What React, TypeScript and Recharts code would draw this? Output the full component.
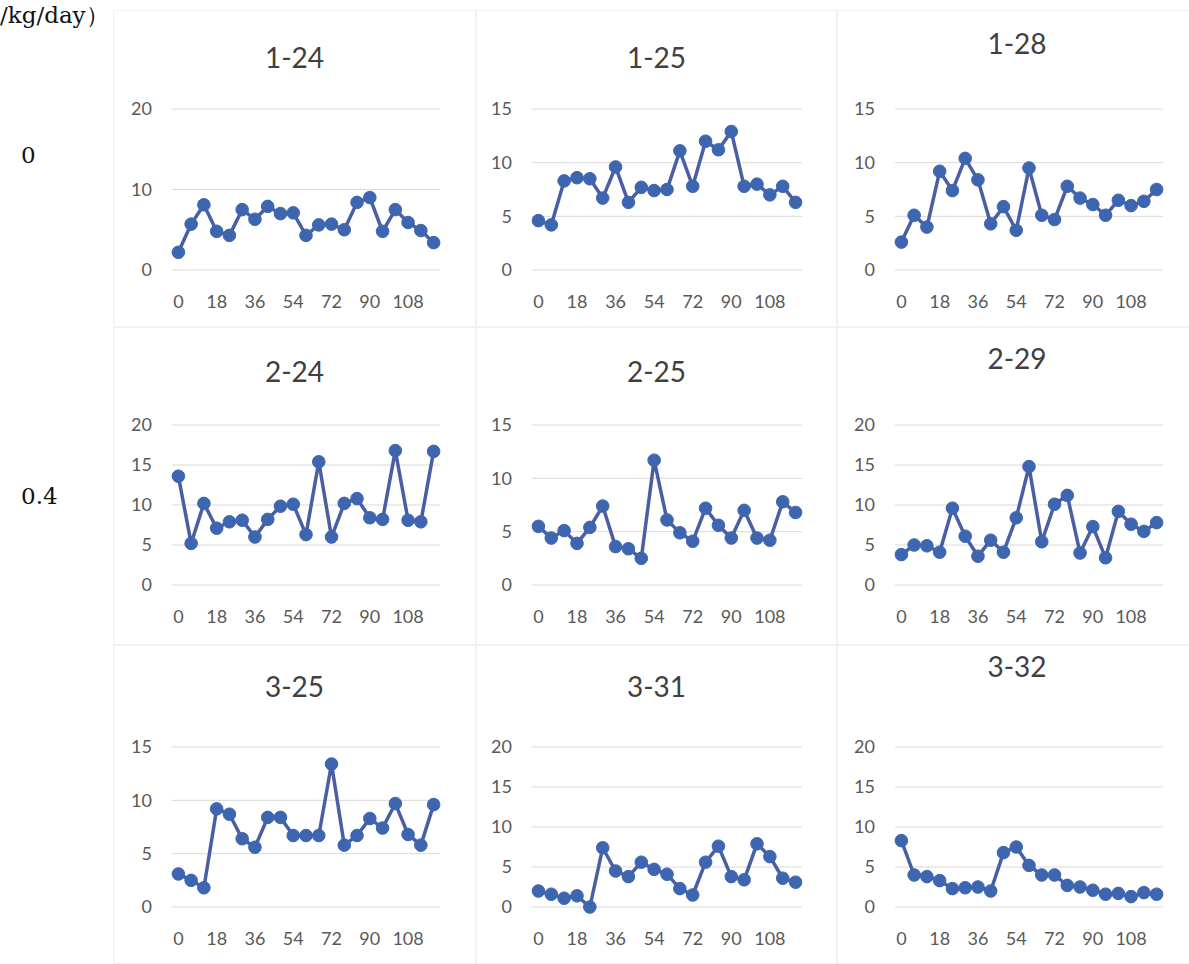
import { LineChart, Line, XAxis, YAxis, CartesianGrid } from "recharts"

// sampling days (x categories)
const days = [0, 6, 12, 18, 24, 30, 36, 42, 48, 54, 60, 66, 72, 78, 84, 90, 96, 102, 108, 114, 120]

const titles = ["1-24", "1-25", "1-28", "2-24", "2-25", "2-29", "3-25", "3-31", "3-32"]

const v124 = [2.2, 5.7, 8.1, 4.8, 4.3, 7.5, 6.3, 7.9, 7.0, 7.1, 4.3, 5.6, 5.7, 5.0, 8.4, 9.0, 4.8, 7.5, 5.9, 4.9, 3.4]
const v125 = [4.6, 4.2, 8.3, 8.6, 8.5, 6.7, 9.6, 6.3, 7.7, 7.4, 7.5, 11.1, 7.8, 12.0, 11.2, 12.9, 7.8, 8.0, 7.0, 7.8, 6.3]
const v128 = [2.6, 5.1, 4.0, 9.2, 7.4, 10.4, 8.4, 4.3, 5.9, 3.7, 9.5, 5.1, 4.7, 7.8, 6.7, 6.1, 5.1, 6.5, 6.0, 6.4, 7.5]
const v224 = [13.6, 5.2, 10.2, 7.1, 7.9, 8.1, 6.0, 8.2, 9.85, 10.1, 6.3, 15.4, 6.0, 10.2, 10.8, 8.4, 8.2, 16.8, 8.1, 7.9, 16.7]
const v225 = [5.5, 4.4, 5.1, 3.9, 5.4, 7.4, 3.6, 3.4, 2.5, 11.7, 6.1, 4.9, 4.1, 7.2, 5.6, 4.4, 7.0, 4.4, 4.2, 7.8, 6.8]
const v229 = [3.8, 5.0, 4.9, 4.1, 9.6, 6.1, 3.6, 5.6, 4.1, 8.4, 14.8, 5.4, 10.1, 11.2, 4.0, 7.3, 3.4, 9.2, 7.6, 6.7, 7.8]
const v325 = [3.1, 2.5, 1.8, 9.2, 8.7, 6.4, 5.6, 8.4, 8.4, 6.7, 6.7, 6.7, 13.4, 5.8, 6.7, 8.3, 7.4, 9.7, 6.8, 5.8, 9.6]
const v331 = [2.0, 1.6, 1.1, 1.4, 0.0, 7.4, 4.5, 3.8, 5.6, 4.7, 4.1, 2.3, 1.5, 5.6, 7.6, 3.8, 3.4, 7.9, 6.3, 3.6, 3.1]
const v332 = [8.3, 4.0, 3.8, 3.3, 2.3, 2.4, 2.5, 2.0, 6.8, 7.5, 5.2, 4.0, 4.0, 2.7, 2.5, 2.1, 1.6, 1.7, 1.3, 1.8, 1.6]

const series = [v124, v125, v128, v224, v225, v229, v325, v331, v332]

const ticks10 = [0, 10, 20]
const ticks15 = [0, 5, 10, 15]
const ticks20 = [0, 5, 10, 15, 20]
const yTicks = [ticks10, ticks15, ticks15, ticks20, ticks15, ticks20, ticks15, ticks20, ticks20]

const doseLabels = ["0", "0.4", ""]
const unitLabel = "/kg/day）"

const LINE = "#4A5FA3"
const DOT = "#3E66B0"
const GRID = "#d9d9d9"
const TICK = "#595959"

// page layout of the 3x3 grid
const colX = [113, 476, 837]
const colW = [363, 361, 360]
const plotL = [172, 532, 895]
const plotR = [440, 802, 1163]
const rowY = [10, 327, 645]
const rowH = [317, 318, 319]
const plotT = [109, 425, 747]
const plotB = [270, 585, 907]
const titleY = [
  [56, 56, 42],
  [370, 370, 357],
  [685, 685, 665],
]
const doseY = [155, 496, 820]

const Y_W = 40
const X_H = 40

function Panel({ idx }: { idx: number }) {
  const r = Math.floor(idx / 3)
  const c = idx % 3
  const data = days.map((d, i) => ({ day: d, value: series[idx][i] }))
  const ticks = yTicks[idx]
  const left = colX[c]
  const top = rowY[r]
  const width = colW[c]
  const height = rowH[r]
  const pw = plotR[c] - plotL[c]
  const pad = pw / 42
  return (
    <div
      style={{
        position: "absolute",
        left,
        top,
        width,
        height,
        boxSizing: "border-box",
        border: "1px solid #f1f1f1",
      }}
    >
      <div
        style={{
          position: "absolute",
          left: 0,
          width: "100%",
          top: titleY[r][c] - top - 18,
          height: 36,
          lineHeight: "36px",
          textAlign: "center",
          fontFamily: "Lato, sans-serif",
          fontSize: 28,
          color: "#404040",
        }}
      >
        {titles[idx]}
      </div>
      <div style={{ position: "absolute", left: -1, top: -1 }}>
        <LineChart
          width={width}
          height={height}
          data={data}
          margin={{
            top: plotT[r] - top,
            left: plotL[c] - left - Y_W,
            right: left + width - plotR[c],
            bottom: top + height - plotB[r] - X_H,
          }}
        >
          <CartesianGrid vertical={false} stroke={GRID} />
          <XAxis
            dataKey="day"
            height={X_H}
            interval={2}
            axisLine={false}
            tickLine={false}
            tickSize={0}
            tickMargin={25}
            padding={{ left: pad, right: pad }}
            tick={{ fill: TICK, fontSize: 18, fontFamily: "Lato, sans-serif" }}
          />
          <YAxis
            width={Y_W}
            domain={[0, ticks[ticks.length - 1]]}
            ticks={ticks}
            axisLine={false}
            tickLine={false}
            tickSize={0}
            tickMargin={20}
            tick={{ fill: TICK, fontSize: 18, fontFamily: "Lato, sans-serif" }}
          />
          <Line
            type="linear"
            dataKey="value"
            stroke={LINE}
            strokeWidth={3.5}
            dot={{ r: 6.3, fill: DOT, stroke: DOT, strokeWidth: 1 }}
            isAnimationActive={false}
          />
        </LineChart>
      </div>
    </div>
  )
}

export default function App() {
  return (
    <div
      style={{
        position: "absolute",
        left: 0,
        top: 0,
        width: 1189,
        height: 964,
        overflow: "hidden",
        background: "#ffffff",
      }}
    >
      <div
        style={{
          position: "absolute",
          left: 0,
          top: 0,
          lineHeight: "30px",
          fontFamily: "'DejaVu Serif', serif",
          fontSize: 23,
          color: "#111",
          whiteSpace: "nowrap",
        }}
      >
        {unitLabel}
      </div>
      {doseLabels.map((label, r) => (
        <div
          key={r}
          style={{
            position: "absolute",
            left: 21,
            top: doseY[r] - 15,
            height: 30,
            lineHeight: "30px",
            fontFamily: "'DejaVu Serif', serif",
            fontSize: 23,
            color: "#111",
            whiteSpace: "nowrap",
          }}
        >
          {label}
        </div>
      ))}
      {titles.map((_, i) => (
        <Panel key={i} idx={i} />
      ))}
    </div>
  )
}
